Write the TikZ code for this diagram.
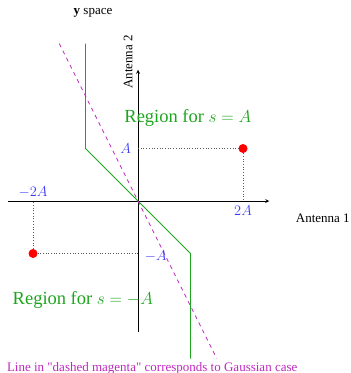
\documentclass[tikz,border=0pt]{standalone}
\usepackage{amsmath, amssymb}
\usepackage{xcolor}
\usepackage{fontspec}
\setmainfont{Liberation Serif}
\usepackage{tikz}

\definecolor{regiongreen}{RGB}{30,165,30}
\definecolor{labelblue}{RGB}{60,60,250}
\definecolor{gaussmagenta}{RGB}{190,40,190}

\begin{document}
\begin{tikzpicture}[x=52.5pt,y=52.5pt,
		lbl/.style={font=\fontsize{13}{15}\selectfont},
		mlbl/.style={text=labelblue,inner sep=1.5pt,font=\fontsize{14.5}{16}\selectfont},
		region/.style={text=regiongreen,font=\fontsize{18.5}{20}\selectfont},
		dot/.style={circle,fill=red,inner sep=0pt,minimum size=9pt}]
				\useasboundingbox (-2.629,-3.276) rectangle (4.038,3.829);
				% axes
				\coordinate (xl) at (-2.48,0);
				\coordinate (xr) at (2.5,0);
				\coordinate (yb) at (0,-2.5);
				\coordinate (yt) at (0,2.5);
				\draw[line width=0.8pt,-stealth] (xl) -- (xr);
				\draw[line width=0.8pt,-stealth] (yb) -- (yt);
				\node[lbl] (ant1) at (3.52,-0.32) {Antenna 1};
				\node[lbl,rotate=90] (ant2) at (-0.19,2.65) {Antenna 2};
				\node[lbl] (title) at (-0.857,3.58) {\textbf{y} space};
				% decision boundary and gaussian case
				\draw[regiongreen,line width=0.9pt] (-1,3) -- (-1,1) -- (1,-1) -- (1,-3);
				\draw[gaussmagenta,dashed,line width=0.7pt,dash pattern=on 4pt off 4pt] (-1.5,3) -- (1.5,-3);
				% symbols
				\node[dot] (sA) at (2,1) {};
				\node[dot] (smA) at (-2,-1) {};
				\coordinate (yA) at (0,1);
				\coordinate (ymA) at (0,-1);
				\coordinate (x2A) at (2,0);
				\coordinate (xm2A) at (-2,0);
				\draw[dotted,gray!70!black,line width=0.7pt] (yA) -- (sA) -- (x2A);
				\draw[dotted,gray!70!black,line width=0.7pt] (ymA) -- (smA) -- (xm2A);
				\node[mlbl,anchor=east] (lA) at (-0.1,1) {$A$};
				\node[mlbl,anchor=west] (lmA) at (0.1,-1.05) {$-A$};
				\node[mlbl,below] (l2A) at (2,-0.05) {$2A$};
				\node[mlbl,above] (lm2A) at (-2,0.03) {$-2A$};
				\node[region] (regA) at (0.95,1.58) {Region for $s=A$};
				\node[region] (regmA) at (-1.05,-1.886) {Region for $s=-A$};
				\node[lbl,text=gaussmagenta] (note) at (0.27,-3.18) {Line in \textquotedbl dashed magenta\textquotedbl{} corresponds to Gaussian case};
			\end{tikzpicture}
\end{document}
